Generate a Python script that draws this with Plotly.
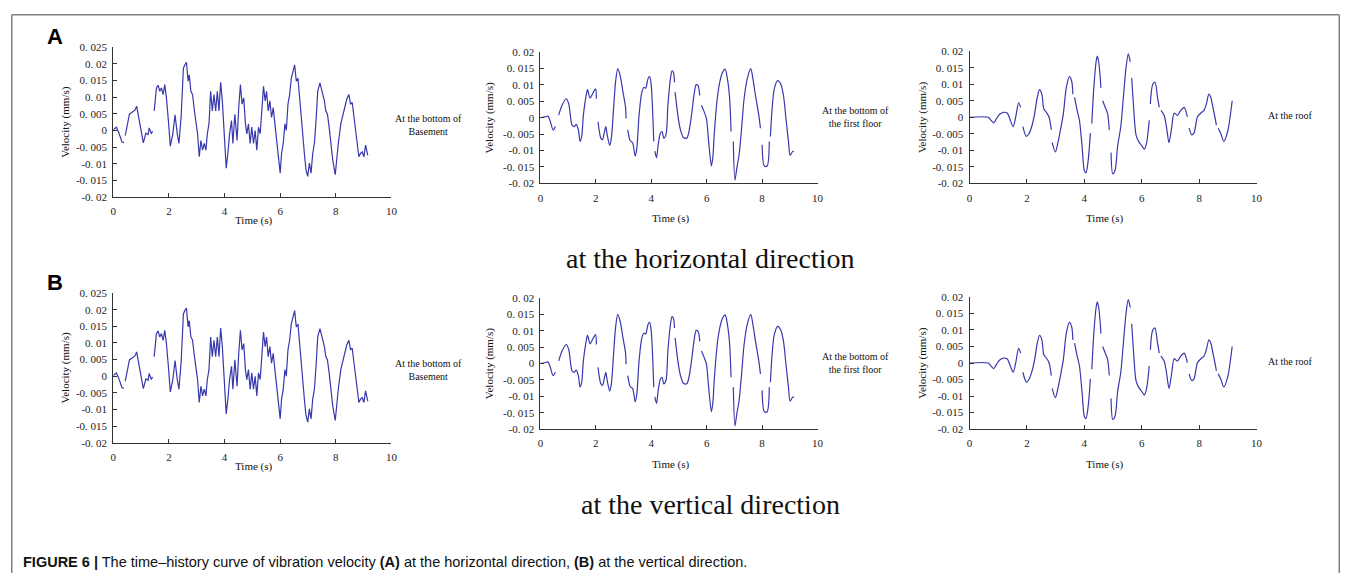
import plotly.graph_objects as go

# ---------------- data ----------------
# Series 1: at the bottom of Basement (None = gap in the drawn curve)
t_basement = [0.00, 0.11, 0.19, 0.31, 0.39, None,
              0.43, 0.51, 0.58, 0.66, 0.78, 0.84, 0.93, 1.02, 1.08, 1.17, 1.25, 1.29, 1.37, 1.41, None,
              1.47, 1.55, 1.61, 1.67, 1.73, 1.79, 1.85, 1.91, 1.98, 2.05, 2.14, 2.22, 2.30, 2.36, 2.44,
              2.52, 2.57, 2.63, 2.69, 2.73, 2.79, 2.85, 2.91, 2.97, 3.03, 3.09, 3.15, 3.21, 3.27, 3.33,
              3.38, 3.44, 3.50, 3.56, 3.62, 3.68, 3.74, 3.80, 3.86, 3.92, 3.98, 4.06, 4.12, 4.18, 4.25,
              4.30, 4.37, 4.45, 4.51, 4.57, 4.63, 4.69, 4.75, 4.80, 4.86, 4.92, 4.98, 5.04, 5.10, 5.16,
              5.22, 5.28, 5.34, 5.40, 5.46, 5.51, 5.57, 5.63, 5.69, 5.75, 5.81, 5.87, 5.93, 6.00, 6.05,
              6.11, 6.17, 6.22, 6.28, 6.34, 6.40, 6.46, 6.52, 6.58, 6.64, 6.70, 6.76, 6.82, 6.88, 6.93,
              6.99, 7.05, 7.11, 7.17, 7.23, 7.29, 7.35, 7.43, 7.53, 7.59, 7.64, 7.70, 7.76, 7.82, 7.89,
              7.98, 8.04, 8.09, 8.18, 8.24, 8.32, 8.39, 8.47, 8.53, 8.59, 8.65, 8.71, 8.77, 8.83, 8.89,
              8.95, 9.01, 9.07, 9.15]
v_basement = [0.0002, 0.0010, -0.0005, -0.0034, -0.0037, None,
              -0.0015, 0.0020, 0.0049, 0.0054, 0.0061, 0.0073, 0.0030, -0.0010, -0.0037, -0.0008, -0.0012, 0.0008, -0.0010, -0.0002, None,
              0.0059, 0.0128, 0.0136, 0.0118, 0.0128, 0.0108, 0.0138, 0.0098, 0.0030, -0.0047, -0.0010, 0.0047, -0.0010, -0.0039, 0.0044,
              0.0187, 0.0197, 0.0205, 0.0148, 0.0167, 0.0118, 0.0108, 0.0064, 0.0030, -0.0010, -0.0079, -0.0030, -0.0059, -0.0039, -0.0059,
              -0.0010, 0.0020, 0.0118, 0.0059, 0.0108, 0.0059, 0.0118, 0.0059, 0.0145, 0.0089, 0.0000, -0.0113, -0.0069, -0.0010, 0.0030,
              -0.0039, 0.0049, -0.0030, 0.0069, 0.0138, 0.0079, 0.0098, 0.0020, -0.0010, 0.0020, -0.0039, 0.0010, -0.0039, 0.0000, -0.0059,
              0.0010, -0.0010, 0.0059, 0.0133, 0.0089, 0.0118, 0.0059, 0.0089, 0.0039, 0.0069, 0.0020, -0.0030, -0.0059, -0.0128, -0.0069,
              -0.0039, 0.0020, 0.0000, 0.0079, 0.0108, 0.0157, 0.0177, 0.0197, 0.0148, 0.0157, 0.0098, 0.0030, -0.0030, -0.0079, -0.0118,
              -0.0138, -0.0098, -0.0128, -0.0069, -0.0039, 0.0030, 0.0118, 0.0143, 0.0108, 0.0089, 0.0059, 0.0049, 0.0010, -0.0039, -0.0089,
              -0.0133, -0.0079, -0.0039, 0.0020, 0.0044, 0.0069, 0.0093, 0.0108, 0.0079, 0.0084, 0.0044, 0.0000, -0.0049, -0.0079, -0.0069,
              -0.0064, -0.0079, -0.0044, -0.0075]

# Series 2: at the bottom of the first floor
t_first = [0.00, 0.19, 0.27, 0.34, 0.46, 0.54, None,
           0.66, 0.78, 0.93, 1.02, 1.08, 1.14, 1.22, 1.29, 1.37, 1.43, 1.49, 1.55, 1.65, 1.70, 1.79,
           1.88, 1.99, 2.02, None,
           2.08, 2.18, 2.24, 2.30, 2.36, 2.41, 2.50, 2.56, 2.64, 2.71, 2.79, 2.88, 2.97, 3.07, 3.09, None,
           3.15, 3.24, 3.33, 3.42, 3.48, 3.56, 3.66, 3.74, 3.80, 3.88, 3.94, 4.00, 4.06, 4.09, None,
           4.13, 4.19, 4.25, 4.33, 4.39, 4.45, 4.53, 4.60, 4.69, 4.75, 4.80, 4.84, None,
           4.86, 4.96, 5.04, 5.16, 5.28, 5.36, 5.46, 5.54, 5.62, 5.69, 5.75, None,
           5.81, 5.91, 5.99, 6.07, 6.17, 6.22, 6.28, 6.38, 6.47, 6.56, 6.67, 6.73, 6.82, 6.88, None,
           6.96, 7.02, 7.09, 7.17, 7.25, 7.35, 7.46, 7.59, 7.67, 7.76, 7.88, 7.94, None,
           8.00, 8.08, 8.18, 8.26, None,
           8.30, 8.36, 8.44, 8.56, 8.67, 8.77, 8.86, 8.95, 9.01, 9.09, 9.15]
v_first = [0.0000, 0.0003, 0.0005, -0.0007, -0.0037, -0.0027, None,
           0.0008, 0.0038, 0.0058, 0.0043, 0.0008, -0.0022, -0.0027, -0.0020, -0.0037, -0.0072, -0.0057, 0.0008, 0.0068, 0.0086, 0.0060,
           0.0073, 0.0088, 0.0058, None,
           -0.0012, -0.0062, -0.0067, -0.0047, -0.0027, -0.0052, -0.0084, -0.0062, 0.0028, 0.0108, 0.0150, 0.0128, 0.0083, 0.0033, -0.0002, None,
           -0.0037, -0.0070, -0.0077, -0.0117, -0.0092, 0.0008, 0.0078, 0.0093, 0.0090, 0.0118, 0.0126, 0.0098, -0.0002, -0.0072, None,
           -0.0102, -0.0122, -0.0082, -0.0047, -0.0042, -0.0062, -0.0052, 0.0038, 0.0118, 0.0143, 0.0138, 0.0108, None,
           0.0078, 0.0008, -0.0032, -0.0060, -0.0062, -0.0042, 0.0013, 0.0068, 0.0101, 0.0098, 0.0068, None,
           0.0038, 0.0018, -0.0002, -0.0072, -0.0147, -0.0122, -0.0042, 0.0058, 0.0108, 0.0136, 0.0148, 0.0128, 0.0068, -0.0042, None,
           -0.0072, -0.0190, -0.0152, -0.0112, -0.0042, 0.0058, 0.0118, 0.0150, 0.0118, 0.0068, 0.0008, -0.0032, None,
           -0.0082, -0.0147, -0.0147, -0.0072, None,
           -0.0057, 0.0028, 0.0088, 0.0113, 0.0103, 0.0068, -0.0002, -0.0072, -0.0115, -0.0104, -0.0102]

# Series 3: at the roof
t_roof = [0.00, 0.65, 0.73, 0.84, 0.94, 1.05, 1.19, 1.31, 1.40, 1.52, 1.61, 1.71, 1.78, None,
          1.86, 1.98, 2.07, 2.18, 2.27, 2.36, 2.44, 2.52, 2.59, 2.67, 2.77, 2.85, None,
          2.88, 2.99, 3.08, 3.19, 3.27, 3.37, 3.48, 3.56, 3.60, None,
          3.66, 3.75, 3.83, 3.92, 4.00, 4.06, 4.14, 4.21, None,
          4.26, 4.33, 4.41, 4.45, 4.50, 4.58, None,
          4.64, 4.72, 4.81, 4.87, None,
          4.93, 4.99, 5.07, 5.16, 5.27, 5.36, 5.45, 5.53, 5.60, None,
          5.65, 5.71, 5.80, 5.89, 6.01, 6.09, 6.17, 6.26, None,
          6.30, 6.38, 6.46, 6.55, 6.61, None,
          6.67, 6.78, 6.86, 6.95, 7.04, 7.13, 7.24, 7.36, 7.48, 7.53, 7.59, None,
          7.65, 7.74, 7.82, 7.94, 8.06, 8.17, 8.25, 8.34, 8.40, 8.48, 8.56, 8.60, None,
          8.66, 8.75, 8.86, 9.00, 9.15]
v_roof = [0.0000, 0.0000, -0.0007, -0.0017, -0.0004, 0.0009, 0.0015, 0.0013, -0.0004, -0.0028, 0.0001, 0.0044, 0.0030, None,
          -0.0028, -0.0058, -0.0050, -0.0024, 0.0011, 0.0060, 0.0084, 0.0070, 0.0025, 0.0016, 0.0001, -0.0038, None,
          -0.0077, -0.0105, -0.0077, -0.0028, 0.0011, 0.0089, 0.0123, 0.0109, 0.0070, None,
          0.0060, 0.0021, -0.0009, -0.0087, -0.0161, -0.0168, -0.0126, -0.0048, None,
          -0.0019, 0.0089, 0.0168, 0.0185, 0.0168, 0.0089, None,
          0.0050, 0.0032, 0.0011, -0.0038, None,
          -0.0107, -0.0171, -0.0161, -0.0087, -0.0028, 0.0060, 0.0148, 0.0192, 0.0168, None,
          0.0119, 0.0040, -0.0053, -0.0073, -0.0087, -0.0097, -0.0077, -0.0009, None,
          0.0040, 0.0099, 0.0106, 0.0060, 0.0030, None,
          0.0021, 0.0006, -0.0028, -0.0077, -0.0033, 0.0013, 0.0006, 0.0021, 0.0030, 0.0021, 0.0001, None,
          -0.0033, -0.0053, -0.0048, 0.0001, 0.0013, 0.0021, 0.0040, 0.0070, 0.0062, 0.0030, -0.0004, -0.0024, None,
          -0.0033, -0.0048, -0.0073, -0.0040, 0.0050]

x_ticks = [0, 2, 4, 6, 8, 10]
y_ticks_wide = [-0.02, -0.015, -0.01, -0.005, 0, 0.005, 0.01, 0.015, 0.02, 0.025]
y_labels_wide = ["-0. 02", "-0. 015", "-0. 01", "-0. 005", "0", "0. 005", "0. 01", "0. 015", "0. 02", "0. 025"]
y_ticks = [-0.02, -0.015, -0.01, -0.005, 0, 0.005, 0.01, 0.015, 0.02]
y_labels = ["-0. 02", "-0. 015", "-0. 01", "-0. 005", "0", "0. 005", "0. 01", "0. 015", "0. 02"]

location_labels = ["At the bottom of<br>Basement", "At the bottom of<br>the first floor", "At the roof"]
row_titles = ["at the horizontal direction", "at the vertical direction"]
row_letters = ["A", "B"]
caption = ("<b>FIGURE 6 |</b> The time\u2013history curve of vibration velocity <b>(A)</b> at the horizontal "
           "direction, <b>(B)</b> at the vertical direction.")

# ---------------- layout helpers ----------------
# The page body keeps its default 8 px margin, so the figure is made 16 px smaller
# and positions (given in window pixels) are shifted by that margin.
PAGE_W, PAGE_H, BODY = 1354, 587, 8
W, H = PAGE_W - 2 * BODY, PAGE_H - 2 * BODY
def fx(px):
    return min(max((px - BODY) / W, 0.0), 1.0)
def fy(py):
    return min(max(1 - (py - BODY) / H, 0.0), 1.0)

series = [(t_basement, v_basement, "linear"),
          (t_first, v_first, "spline"),
          (t_roof, v_roof, "spline")]

cols = [
    dict(x0=111, x1=391, yt=42, yb=195, lx=428, ly=121, ytx=63, xtx=253, xty=219),
    dict(x0=541, x1=820, yt=47, yb=181, lx=858, ly=113, ytx=490, xtx=672, xty=217),
    dict(x0=973, x1=1262, yt=46, yb=181, lx=1296, ly=112, ytx=925, xtx=1109, xty=217),
]
row_offset = [0, 251]

LINE = "#3838ad"
SERIF = "Liberation Serif, Times New Roman, serif"

fig = go.Figure()
annotations = []
layout_axes = {}
k = 0
for r, dy in enumerate(row_offset):
    for c, col in enumerate(cols):
        k += 1
        t, v, shape = series[c]
        xa = "x" if k == 1 else f"x{k}"
        ya = "y" if k == 1 else f"y{k}"
        fig.add_trace(go.Scatter(x=t, y=v, mode="lines", xaxis=xa, yaxis=ya,
                                 line=dict(color=LINE, width=1.2, shape=shape, smoothing=0.8),
                                 connectgaps=False, showlegend=False, hoverinfo="skip"))
        wide = (c == 0)
        xkey = "xaxis" if k == 1 else f"xaxis{k}"
        ykey = "yaxis" if k == 1 else f"yaxis{k}"
        layout_axes[xkey] = dict(
            domain=[fx(col["x0"]), fx(col["x1"])], anchor=ya, range=[0, 10],
            tickvals=x_ticks, ticktext=[str(x) for x in x_ticks],
            showgrid=False, zeroline=False, showline=True, linecolor="#333", linewidth=1,
            ticks="inside", ticklen=4, tickcolor="#333",
            tickfont=dict(family=SERIF, size=11, color="#222"), ticklabelstandoff=4)
        layout_axes[ykey] = dict(
            domain=[fy(col["yb"] + dy), fy(col["yt"] + dy)], anchor=xa,
            range=[-0.02, 0.025] if wide else [-0.02, 0.02],
            tickvals=y_ticks_wide if wide else y_ticks,
            ticktext=y_labels_wide if wide else y_labels,
            showgrid=False, zeroline=False, showline=True, linecolor="#333", linewidth=1,
            ticks="inside", ticklen=4, tickcolor="#333",
            tickfont=dict(family=SERIF, size=11, color="#222"), ticklabelstandoff=3)
        annotations.append(dict(text="Velocity (mm/s)", x=fx(col["ytx"]), y=fy((col["yt"] + col["yb"]) / 2 + dy),
                                xref="paper", yref="paper", showarrow=False, textangle=-90,
                                font=dict(family=SERIF, size=11, color="#111"), xanchor="center", yanchor="middle"))
        annotations.append(dict(text="Time (s)", x=fx(col["xtx"]), y=fy(col["xty"] + dy),
                                xref="paper", yref="paper", showarrow=False,
                                font=dict(family=SERIF, size=11, color="#111"), xanchor="center", yanchor="middle"))
        annotations.append(dict(text=location_labels[c], x=fx(col["lx"]), y=fy(col["ly"] + dy),
                                xref="paper", yref="paper", showarrow=False, align="center",
                                font=dict(family=SERIF, size=10, color="#111"), xanchor="center", yanchor="middle"))

for r, dy in enumerate(row_offset):
    annotations.append(dict(text=row_titles[r], x=fx(712), y=fy(258 + dy), xref="paper", yref="paper",
                            showarrow=False, font=dict(family=SERIF, size=28, color="#111"),
                            xanchor="center", yanchor="middle"))
    annotations.append(dict(text="<b>" + row_letters[r] + "</b>", x=fx(52), y=fy(31 + dy), xref="paper", yref="paper",
                            showarrow=False, font=dict(family="Liberation Sans, Arial, sans-serif", size=22, color="#000"),
                            xanchor="center", yanchor="middle"))

annotations.append(dict(text=caption, x=fx(18), y=fy(568), xref="paper", yref="paper", showarrow=False,
                        font=dict(family="Liberation Sans Narrow, Liberation Sans, Arial, sans-serif", size=14.5, color="#111"),
                        xanchor="left", yanchor="middle"))

border = "#808080"
bx0, by0, bx1 = fx(BODY + 0.75), fy(BODY + 0.75), fx(PAGE_W - BODY - 0.75)
shapes = [
    dict(type="line", xref="paper", yref="paper", x0=bx0, y0=0, x1=bx0, y1=by0, line=dict(color=border, width=1.5)),
    dict(type="line", xref="paper", yref="paper", x0=bx0, y0=by0, x1=bx1, y1=by0, line=dict(color=border, width=1.5)),
    dict(type="line", xref="paper", yref="paper", x0=bx1, y0=by0, x1=bx1, y1=0, line=dict(color=border, width=1.5)),
]

fig.update_layout(width=W, height=H, margin=dict(l=0, r=0, t=0, b=0),
                  paper_bgcolor="white", plot_bgcolor="white",
                  annotations=annotations, shapes=shapes, **layout_axes)

fig.write_html("out.html", config={"displayModeBar": False})
